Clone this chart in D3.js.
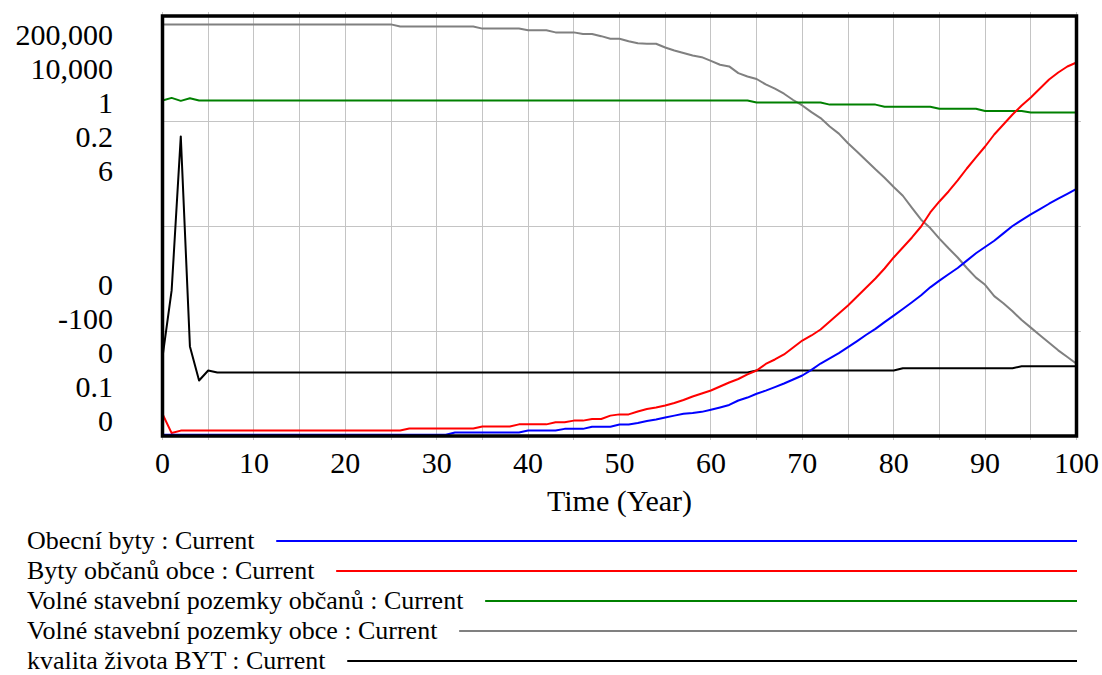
<!DOCTYPE html>
<html>
<head>
<meta charset="utf-8">
<script src="https://cdn.jsdelivr.net/npm/d3@7"></script>
<style>
  html, body { margin: 0; padding: 0; background: #fff; }
  svg { display: block; }
  text { font-family: "Liberation Serif", "Times New Roman", serif; fill: #000; }
</style>
</head>
<body>
<svg id="chart" width="1102" height="675"></svg>
<script>
// ---------- DATA (saved points; straight segments between them) ----------
const obecniBytyYears  = [0,31,32,39,40,43,44,46,47,49,50,51,52,53,54,55,56,57,58,59,60,61,62,63,64,65,66,67,68,69,70,71,72,73,74,75,76,77,78,79,80,81,82,83,84,85,86,87,88,89,90,91,92,93,94,95,96,97,98,99,100];
const obecniBytyValues = [600,600,1700,1700,2600,2600,3400,3400,4400,4400,5500,5500,6200,7100,7900,8800,9700,10600,11000,11500,12500,13600,14800,16900,18300,20100,21600,23300,25000,26900,28800,31500,34500,37000,39500,42300,45200,48200,51000,54200,57300,60500,63700,67000,70800,74000,77000,80000,83500,87000,90000,93000,96500,100000,102800,105500,108000,110600,113000,115300,117700];

const bytyObcanuYears  = [0,1,2,26,27,34,35,38,39,42,43,44,45,46,47,48,49,50,51,52,53,54,55,56,57,58,59,60,61,62,63,64,65,66,67,68,69,70,71,72,73,74,75,76,77,78,79,80,81,82,83,84,85,86,87,88,89,90,91,92,93,94,95,96,97,98,99,100];
const bytyObcanuValues = [430,-30,30,30,80,80,130,130,180,180,230,230,270,270,310,310,390,420,420,490,550,585,633,694,766,850,922,994,1090,1187,1271,1380,1475,1632,1740,1860,2028,2196,2317,2461,2654,2846,3039,3255,3471,3688,3928,4193,4433,4674,4938,5275,5540,5780,6045,6333,6598,6862,7150,7391,7632,7848,8040,8257,8473,8642,8786,8882];

const pozemkyObcanuYears  = [0,1,2,3,4,64,65,72,73,78,79,84,85,89,90,94,95,100];
const pozemkyObcanuValues = [0.799,0.805,0.798,0.804,0.799,0.799,0.794,0.794,0.789,0.789,0.784,0.784,0.779,0.779,0.774,0.774,0.770,0.770];

const pozemkyObceYears  = [0,25,26,34,35,39,40,42,43,45,46,47,48,49,50,51,52,53,54,55,56,57,58,59,60,61,62,63,64,65,66,67,68,69,70,71,72,73,74,75,76,77,78,79,80,81,82,83,84,85,86,87,88,89,90,91,92,93,94,95,96,97,98,99,100];
const pozemkyObceValues = [0.1980,0.1980,0.1975,0.1975,0.1970,0.1970,0.1966,0.1966,0.1961,0.1961,0.1957,0.1957,0.1952,0.1946,0.1946,0.1940,0.1935,0.1934,0.1934,0.1925,0.1918,0.1912,0.1906,0.1902,0.1893,0.1884,0.1880,0.1864,0.1856,0.1850,0.1837,0.1827,0.1815,0.1800,0.1787,0.1771,0.1757,0.1737,0.1720,0.1697,0.1677,0.1656,0.1635,0.1615,0.1593,0.1572,0.1543,0.1515,0.1495,0.1470,0.1447,0.1425,0.1400,0.1377,0.1360,0.1333,0.1316,0.1297,0.1276,0.1258,0.1240,0.1222,0.1204,0.1188,0.1172];

const kvalitaZivotaYears  = [0,1,2,3,4,5,6,64,65,80,81,93,94,100];
const kvalitaZivotaValues = [1.126,2.08,4.28,1.28,0.793,0.936,0.907,0.907,0.936,0.936,0.969,0.969,0.997,0.997];

const seriesNames = ["Obecní byty : Current", "Byty občanů obce : Current", "Volné stavební pozemky občanů : Current", "Volné stavební pozemky obce : Current", "kvalita života BYT : Current"];
const seriesColors = ["#0000ff", "#ff0000", "#008000", "#808080", "#000000"];
const seriesMin = [0, -100, 0, 0.1, 0];
const seriesMax = [200000, 10000, 1, 0.2, 6];
const topLabels = ["200,000", "10,000", "1", "0.2", "6"];
const bottomLabels = ["0", "-100", "0", "0.1", "0"];
const xTicks = [0,10,20,30,40,50,60,70,80,90,100];
const xGridTicks = [0,5,10,15,20,25,30,35,40,45,50,55,60,65,70,75,80,85,90,95,100];
const xTitle = "Time (Year)";

const seriesYears = [obecniBytyYears, bytyObcanuYears, pozemkyObcanuYears, pozemkyObceYears, kvalitaZivotaYears];
const seriesValues = [obecniBytyValues, bytyObcanuValues, pozemkyObcanuValues, pozemkyObceValues, kvalitaZivotaValues];

// ---------- LAYOUT ----------
const svg = d3.select("#chart");
const L = 162.5, R = 1076.5, T = 16, B = 436;
const x = d3.scaleLinear().domain([0, 100]).range([L, R]);
const yFrac = d3.scaleLinear().domain([0, 4]).range([B, T]); // grid divisions
const yScales = seriesMin.map((mn, i) => d3.scaleLinear().domain([mn, seriesMax[i]]).range([B, T]));

// grid
const grid = svg.append("g").attr("stroke", "#c4c4c4").attr("stroke-width", 1).attr("shape-rendering", "crispEdges");
xGridTicks.forEach(t => {
  grid.append("line").attr("x1", x(t)).attr("x2", x(t)).attr("y1", T - 4).attr("y2", B + 4);
});
[1, 2, 3].forEach(k => {
  grid.append("line").attr("x1", L).attr("x2", R + 4).attr("y1", yFrac(k)).attr("y2", yFrac(k));
});

// series lines (first series drawn last, on top)
const plot = svg.append("g");
for (let i = seriesValues.length - 1; i >= 0; i--) {
  const ys = yScales[i], yrs = seriesYears[i];
  const line = d3.line().x((d, j) => x(yrs[j])).y(d => ys(d));
  plot.append("path")
    .datum(seriesValues[i])
    .attr("fill", "none")
    .attr("stroke", seriesColors[i])
    .attr("stroke-width", 2)
    .attr("stroke-linejoin", "round")
    .attr("d", line);
}

// frame
svg.append("rect").attr("x", L).attr("y", T).attr("width", R - L).attr("height", B - T)
  .attr("fill", "none").attr("stroke", "#000").attr("stroke-width", 3.5);

// y labels (one scale per series)
const yl = svg.append("g").attr("font-size", 30).attr("text-anchor", "end");
topLabels.forEach((s, i) => {
  yl.append("text").attr("x", 113).attr("y", 45 + 34 * i).text(s);
});
bottomLabels.forEach((s, i) => {
  yl.append("text").attr("x", 113).attr("y", 295 + 34 * i).text(s);
});

// x tick labels
const xl = svg.append("g").attr("font-size", 30).attr("text-anchor", "middle");
xTicks.forEach(t => {
  xl.append("text").attr("x", x(t)).attr("y", 472.5).text(d3.format("d")(t));
});
svg.append("text").attr("x", (L + R) / 2).attr("y", 511).attr("font-size", 30)
  .attr("text-anchor", "middle").text(xTitle);

// legend
const lg = svg.append("g");
seriesNames.forEach((name, i) => {
  const ly = 541 + 30 * i;
  const t = lg.append("text").attr("x", 27).attr("y", ly + 8).attr("font-size", 26).text(name);
  const bb = t.node().getBBox();
  lg.append("line").attr("x1", bb.x + bb.width + 21).attr("x2", 1077)
    .attr("y1", ly).attr("y2", ly)
    .attr("stroke", seriesColors[i]).attr("stroke-width", 2);
});
</script>
</body>
</html>
